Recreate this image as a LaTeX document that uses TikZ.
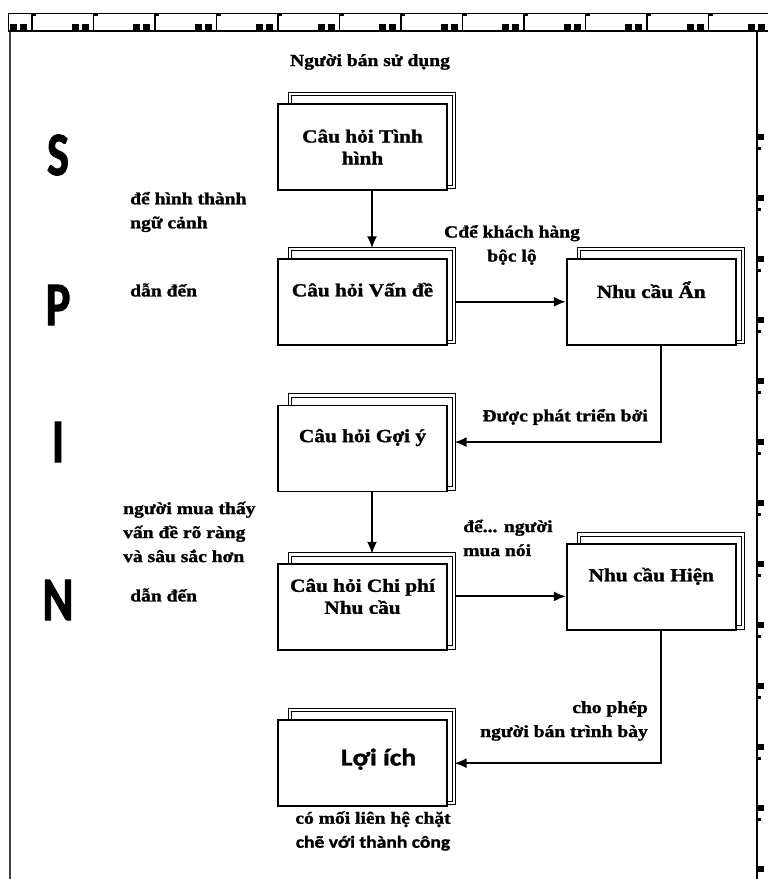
\documentclass[tikz,border=0pt]{standalone}
\usepackage{fontspec}
\setmainfont{Liberation Serif}[FakeStretch=1.15, BoldFeatures={FakeBold=1.4}]
\newfontfamily\sansfont{Carlito}[FakeStretch=1.15, BoldFeatures={FakeBold=1.4}]
\newfontfamily\spinfont{Carlito}[FakeStretch=0.75, BoldFeatures={FakeBold=1.5}]
\usetikzlibrary{arrows.meta, positioning, backgrounds, calc}
\tikzset{
  box/.style={rectangle,draw,line width=1.8pt,fill=white,minimum width=169pt,minimum height=86pt,inner sep=0pt},
  shadowbox/.style={rectangle,draw,line width=1pt,double,double distance=2.4pt,fill=white,
    minimum width=164pt,minimum height=93pt,inner sep=0pt,
    path picture={
      \foreach \f in {0.2,0.55,0.93}
        \fill ($(path picture bounding box.north west)!\f!(path picture bounding box.north east)$)
          ++(-4pt,0) rectangle ++(8pt,-5pt);
      \foreach \f in {0.22,0.82}
        \fill ($(path picture bounding box.north east)!\f!(path picture bounding box.south east)$)
          ++(0,3pt) rectangle ++(-5pt,-6pt);}},
  boxtext/.style={align=center,font=\fontsize{18.5}{22}\selectfont\bfseries,inner sep=0pt},
  lbl/.style={font=\fontsize{17}{24}\selectfont\bfseries,inner sep=0pt},
  spin/.style={font=\fontsize{62}{62}\spinfont\bfseries,inner sep=0pt},
  line/.style={-{Latex[length=12pt,width=10pt]},line width=2pt}
}

\begin{document}
\begin{tikzpicture}[x=1pt,y=1pt]
\useasboundingbox (0,0) rectangle (768,879);

% frame and rulers
\draw[line width=1.8pt,black!75] (10,0) -- (10,849);
\draw[line width=1.8pt] (757,0) -- (757,849);
\draw[line width=1.8pt] (8,848) -- (768,848);
\draw[line width=0.6pt] (8,866) -- (768,866) (8,848) -- (8,866);
\foreach \x in {32,93.5,...,770} {
  \draw[line width=1.2pt] (\x,848) -- (\x,864) -- ++(4,0);
  \fill (\x-22,848) rectangle ++(7,7);
  \fill (\x-12,848) rectangle ++(7,7);
}
\foreach \y in {742,681,...,0} {
  \fill (757,\y-3) rectangle ++(7,6);
  \fill (757,\y-13) rectangle ++(4,3);
}

% S P I N
\node[spin] (sp-s) at (58,724) {S};
\node[spin] (sp-p) at (58,574) {P};
\node[spin] (sp-i) at (58,437) {I};
\node[spin] (sp-n) at (58,279) {N};

% question boxes
\node[box] (qs) at (362.5,732) {};
\node[box, below=67pt of qs] (qp) {};
\node[box, right=118pt of qp] (ni) {};
\node[box, below=59pt of qp] (qi) {};
\node[box, below=71pt of qi] (qn) {};
\node[box, right=118pt of qn, yshift=20pt] (ne) {};
\node[box, below=68pt of qn] (bn) {};

\begin{scope}[on background layer]
\foreach \b in {qs,qp,ni,qi,qn,ne,bn}
  \node[shadowbox] (\b-b) at ([shift={(9.5pt,6.5pt)}]\b) {};
\end{scope}

\node[boxtext] (qs-t) at (qs) {Câu hỏi Tình\\hình};
\node[boxtext] (qp-t) at ([yshift=12pt]qp) {Câu hỏi Vấn đề};
\node[boxtext] (ni-t) at ([yshift=12pt]ni) {Nhu cầu Ẩn};
\node[boxtext] (qi-t) at ([yshift=11pt]qi) {Câu hỏi Gợi ý};
\node[boxtext] (qn-t) at ([yshift=11pt]qn) {Câu hỏi Chi phí\\Nhu cầu};
\node[boxtext] (ne-t) at ([yshift=11pt]ne) {Nhu cầu Hiện};
\node[boxtext, font=\fontsize{24}{26}\sansfont\bfseries] (bn-t) at ([xshift=16pt,yshift=4pt]bn) {Lợi ích};

% labels
\node[lbl] (seller) at (370,817) {Người bán sử dụng};
\node[lbl, anchor=west, align=left] (l-ctx) at (130,667) {để hình thành\\ngữ cảnh};
\node[lbl, anchor=west] (l-lead1) at (130,589) {dẫn đến};
\node[lbl, align=center] (l-reveal) at (512,634) {Cđể khách hàng\\bộc lộ};
\node[lbl, anchor=east] (l-dev) at (648,462) {Được phát triển bởi};
\node[lbl, anchor=west, align=left] (l-see) at (123,347) {người mua thấy\\vấn đề rõ ràng\\và sâu sắc hơn};
\node[lbl, anchor=west] (l-lead2) at (130,284) {dẫn đến};
\node[lbl, anchor=west, align=left] (l-say) at (463,341) {để... người\\mua nói};
\node[lbl, anchor=east, align=right] (l-allow) at (648,158) {cho phép\\người bán trình bày};
\node[lbl, align=center] (l-succ) at (373,48) {có mối liên hệ chặt\\{\sansfont\bfseries chẽ với thành công}};

% connectors
\draw[line] (qs.south -| qs-b) -- (qp-b.north);
\draw[line] (qp.east -| qp-b.east) -- (ni.west);
\draw[line] (ni.south -| ni-b) |- (qi-b.east);
\draw[line] (qi.south -| qi-b) -- (qn-b.north);
\draw[line] ([yshift=-9pt]ne.west -| qn-b.east) -- ([yshift=-9pt]ne.west);
\draw[line] (ne.south -| ne-b) |- (bn.east -| bn-b.east);
\end{tikzpicture}
\end{document}
